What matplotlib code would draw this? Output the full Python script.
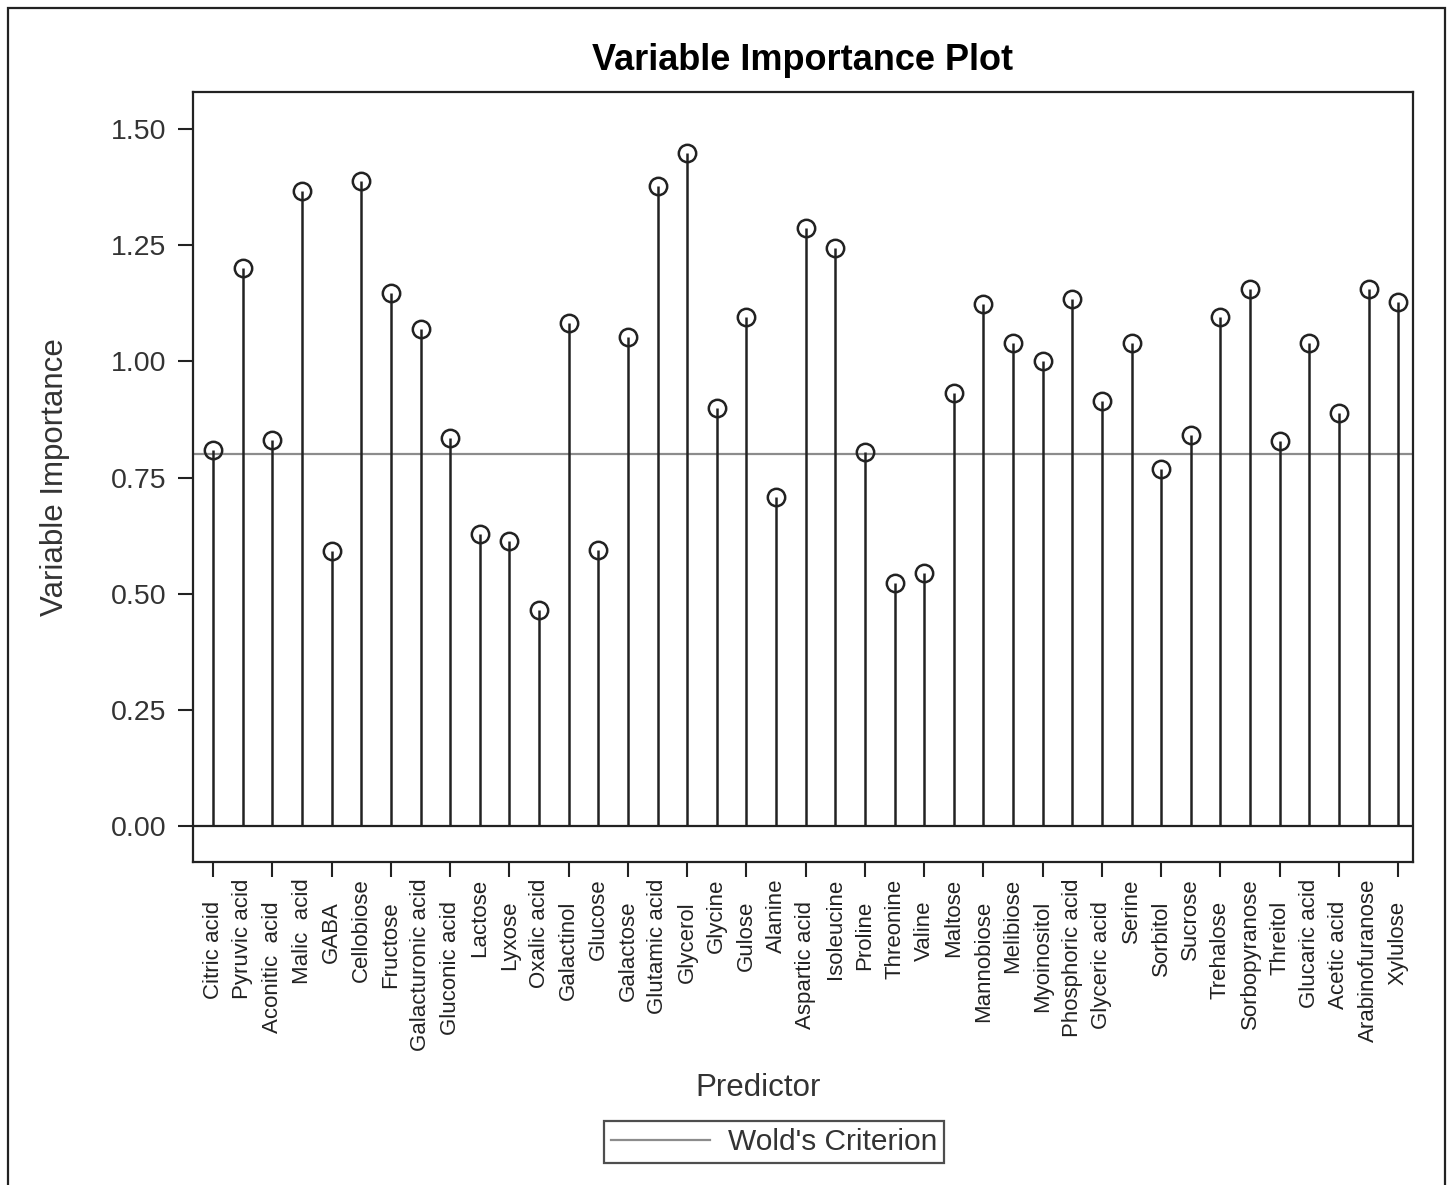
import matplotlib
matplotlib.use("Agg")
import matplotlib.pyplot as plt
from matplotlib.patches import Rectangle

plt.rcParams['font.family'] = ['Liberation Sans', 'DejaVu Sans']

predictors = ['Citric acid', 'Pyruvic acid', 'Aconitic  acid', 'Malic  acid', 'GABA',
              'Cellobiose', 'Fructose', 'Galacturonic acid', 'Gluconic acid', 'Lactose',
              'Lyxose', 'Oxalic acid', 'Galactinol', 'Glucose', 'Galactose',
              'Glutamic acid', 'Glycerol', 'Glycine', 'Gulose', 'Alanine',
              'Aspartic acid', 'Isoleucine', 'Proline', 'Threonine', 'Valine',
              'Maltose', 'Mannobiose', 'Melibiose', 'Myoinositol', 'Phosphoric acid',
              'Glyceric acid', 'Serine', 'Sorbitol', 'Sucrose', 'Trehalose',
              'Sorbopyranose', 'Threitol', 'Glucaric acid', 'Acetic acid',
              'Arabinofuranose', 'Xylulose']
importance = [0.809, 1.202, 0.831, 1.367, 0.592, 1.389, 1.148, 1.070, 0.836, 0.628,
              0.613, 0.465, 1.082, 0.595, 1.053, 1.378, 1.448, 0.900, 1.096, 0.709,
              1.288, 1.245, 0.804, 0.522, 0.544, 0.931, 1.123, 1.039, 1.001, 1.134,
              0.915, 1.039, 0.768, 0.841, 1.096, 1.155, 0.829, 1.039, 0.889,
              1.155, 1.127]
wold = 0.8
yticks = [0.0, 0.25, 0.5, 0.75, 1.0, 1.25, 1.5]

ink = '#222222'
W, H = 1448, 1185
fig = plt.figure(figsize=(W / 100, H / 100), dpi=100)
ax = fig.add_axes([193 / W, 1 - 862 / H, 1220 / W, 770 / H])

x = list(range(len(predictors)))

ax.axhline(wold, color='#8c8c8c', lw=1.6, zorder=1, label="Wold's Criterion")
ax.axhline(0, color=ink, lw=1.6, zorder=2)
ax.vlines(x, 0, importance, color=ink, lw=1.8, zorder=3)
ax.plot(x, importance, 'o', ms=12.5, mfc='none', mec=ink, mew=1.8, zorder=4)

ax.set_xlim(-0.68, len(predictors) - 0.5)
ax.set_ylim(-0.0775, 1.58)
ax.set_yticks(yticks)
ax.set_yticklabels(['%.2f' % v for v in yticks], fontsize=20.5, color='#333333')

# every other label gets a tick mark, the rest sit closer to the axis
ax.set_xticks(x[0::2])
ax.set_xticklabels(predictors[0::2], rotation=90, fontsize=16, color=ink)
ax.set_xticks(x[1::2], minor=True)
ax.set_xticklabels(predictors[1::2], minor=True, rotation=90, fontsize=16, color=ink)
ax.tick_params(axis='x', which='major', length=11, width=1.5, color=ink, pad=17)
ax.tick_params(axis='x', which='minor', length=0, pad=12)
ax.tick_params(axis='y', length=11, width=1.5, color=ink, pad=8)

for s in ax.spines.values():
    s.set_color(ink)
    s.set_linewidth(1.6)

ax.set_title('Variable Importance Plot', fontsize=26, fontweight='bold', pad=16)
ax.set_ylabel('Variable Importance', fontsize=22.5, color='#333333')
ax.yaxis.set_label_coords(-0.1008, 0.5)
ax.set_xlabel('Predictor', fontsize=22.5, color='#333333')
ax.xaxis.set_label_coords(0.463, -0.274)

leg = fig.legend(loc='center', bbox_to_anchor=(774 / W, 1 - 1142 / H), fontsize=21.5,
                 frameon=True, fancybox=False, handlelength=3.3, borderpad=0.25,
                 handletextpad=0.6)
leg.get_frame().set_edgecolor(ink)
leg.get_frame().set_linewidth(1.6)
for t in leg.get_texts():
    t.set_color('#333333')

# outer border around the whole graph
fig.patches.append(Rectangle((8 / W, -0.05), (1445 - 8) / W, 1.05 - 8 / H,
                             transform=fig.transFigure, fill=False, ec=ink, lw=1.6))

fig.savefig('out.png', dpi=100)
